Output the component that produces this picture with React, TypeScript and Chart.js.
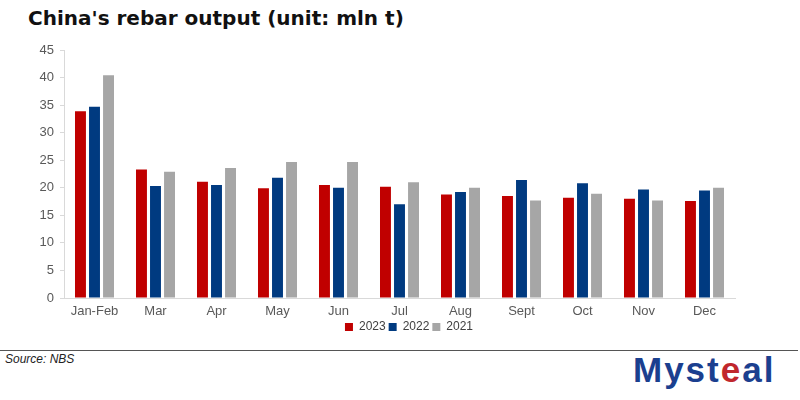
import React, { useEffect, useRef } from "react";
import { Chart, registerables } from "chart.js";

Chart.register(...registerables);

const categories = ["Jan-Feb", "Mar", "Apr", "May", "Jun", "Jul", "Aug", "Sept", "Oct", "Nov", "Dec"];
const s2023 = [33.9, 23.3, 21.1, 19.9, 20.5, 20.2, 18.8, 18.5, 18.2, 18.0, 17.6];
const s2022 = [34.7, 20.3, 20.5, 21.8, 20.0, 17.0, 19.25, 21.4, 20.8, 19.7, 19.5];
const s2021 = [40.4, 22.9, 23.6, 24.7, 24.7, 21.0, 20.0, 17.7, 18.9, 17.7, 20.0];
const seriesLabels = ["2023", "2022", "2021"];
const yMax = 45;
const yStep = 5;

export default function App() {
  const ref = useRef<HTMLCanvasElement | null>(null);

  useEffect(() => {
    if (!ref.current) return;
    const colors = ["#C00000", "#003A80", "#A6A6A6"];
    const chart = new Chart(ref.current, {
      type: "bar",
      data: {
        labels: categories,
        datasets: [s2023, s2022, s2021].map((d, i) => ({
          label: seriesLabels[i],
          data: d,
          backgroundColor: colors[i],
          borderWidth: 0,
          categoryPercentage: 0.69,
          barPercentage: 0.78,
          yAxisID: "y",
        })),
      },
      options: {
        animation: false,
        responsive: false,
        maintainAspectRatio: false,
        layout: { padding: { top: 50, right: 0, left: 18, bottom: 4 } },
        plugins: {
          title: { display: false },
          tooltip: { enabled: false },
          legend: {
            display: true,
            position: "bottom",
            padding: 0,
            labels: {
              boxWidth: 8,
              boxHeight: 8,
              padding: 3,
              color: "#404040",
              font: { family: "Liberation Sans", size: 12 },
            },
          },
        },
        scales: {
          x: {
            afterFit: (s: any) => {
              s.height = 20;
            },
            grid: { display: false, drawTicks: false },
            border: { display: true, color: "#D9D9D9", width: 1 },
            ticks: { color: "#595959", font: { family: "Liberation Sans", size: 13 }, padding: 6 },
          },
          y: {
            min: 0,
            max: yMax,
            afterFit: (s: any) => {
              s.width = 46;
            },
            grid: { drawOnChartArea: false, drawTicks: true, tickLength: 4, color: "#D9D9D9" },
            border: { display: true, color: "#D9D9D9", width: 1 },
            ticks: { stepSize: yStep, color: "#595959", font: { family: "Liberation Sans", size: 13 }, padding: 6 },
          },
          yRight: {
            position: "right",
            display: true,
            min: 0,
            max: yMax,
            afterFit: (s: any) => {
              s.width = 65;
            },
            grid: { display: false, drawTicks: false },
            border: { display: false },
            ticks: { display: false },
          },
        },
      },
    });
    return () => chart.destroy();
  }, []);

  return (
    <div style={{ position: "absolute", left: 0, top: 0, width: 800, height: 400, background: "#fff", overflow: "hidden" }}>
      <div
        style={{
          position: "absolute",
          left: 28,
          top: 6,
          fontFamily: "DejaVu Sans",
          fontWeight: 700,
          fontSize: 20,
          color: "#111",
          whiteSpace: "nowrap",
        }}
      >
        China's rebar output (unit: mln t)
      </div>
      <canvas ref={ref} width={800} height={347} style={{ position: "absolute", left: 0, top: 0, width: 800, height: 347 }} />
      <div style={{ position: "absolute", left: 0, top: 350, width: 798, height: 0, borderTop: "1.5px solid #555" }} />
      <div
        style={{
          position: "absolute",
          left: 5,
          top: 352,
          fontFamily: "Liberation Sans",
          fontStyle: "italic",
          fontSize: 12,
          color: "#222",
        }}
      >
        Source: NBS
      </div>
      <div
        style={{
          position: "absolute",
          left: 633,
          top: 350,
          fontFamily: "Liberation Sans",
          fontWeight: 700,
          fontSize: 35,
          color: "#1B3F8F",
          letterSpacing: 2,
          whiteSpace: "nowrap",
        }}
      >
        Myst<span style={{ color: "#C0272D" }}>e</span>al
      </div>
    </div>
  );
}
